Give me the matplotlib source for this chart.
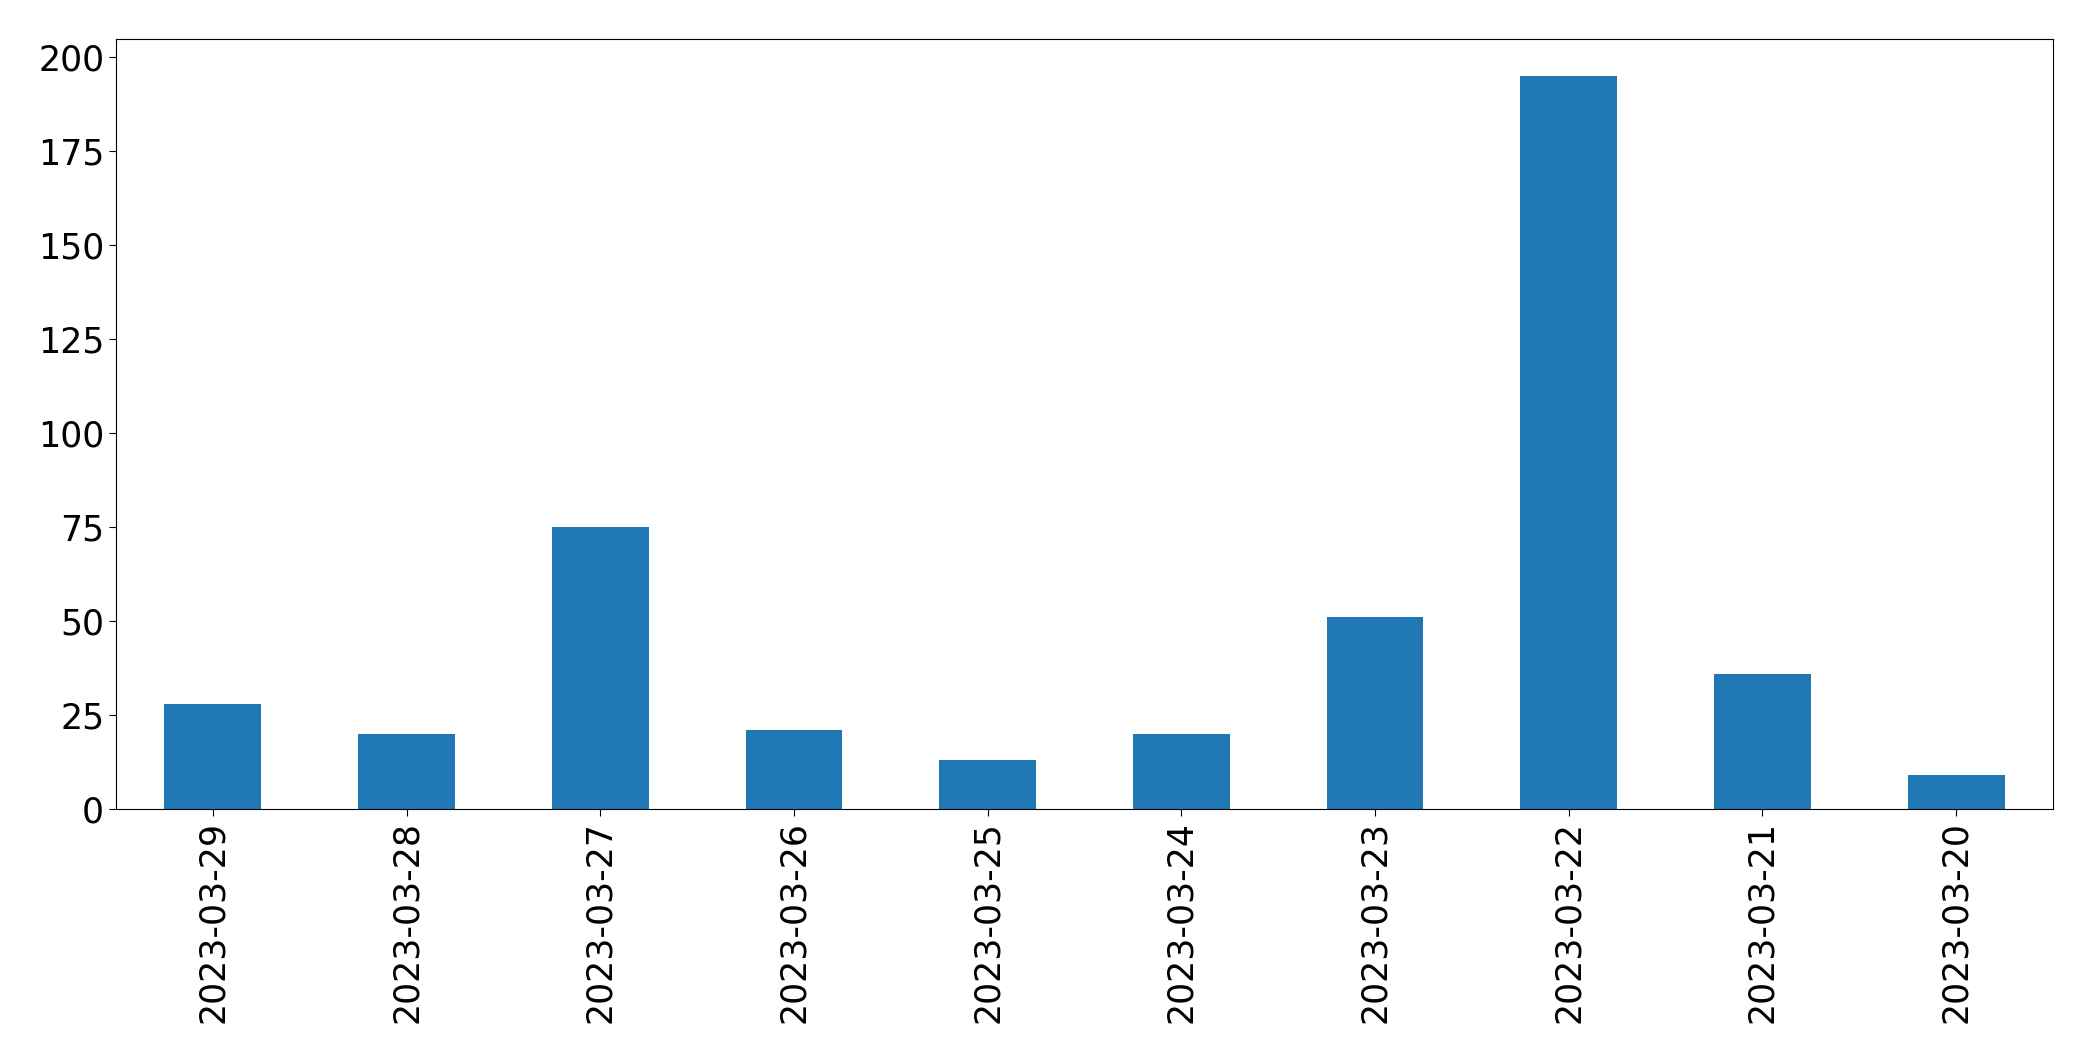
import matplotlib
matplotlib.use("Agg")
import matplotlib.pyplot as plt

dates = ["2023-03-29", "2023-03-28", "2023-03-27", "2023-03-26", "2023-03-25",
         "2023-03-24", "2023-03-23", "2023-03-22", "2023-03-21", "2023-03-20"]
counts = [28, 20, 75, 21, 13, 20, 51, 195, 36, 9]

fig = plt.figure(figsize=(20.93, 10.61), dpi=100)
ax = fig.add_axes([116 / 2093, 1 - 809 / 1061, (2053 - 116) / 2093, (809 - 39) / 1061])
x = list(range(len(dates)))
ax.bar(x, counts, width=0.5, color="#1f77b4")
ax.set_xlim(-0.5, len(dates) - 0.5)
ax.set_ylim(0, max(counts) * 1.05)
ax.set_xticks(x)
ax.set_xticklabels(dates, rotation=90)
ax.tick_params(labelsize=25, length=5)
fig.savefig("out.png", dpi=100)
